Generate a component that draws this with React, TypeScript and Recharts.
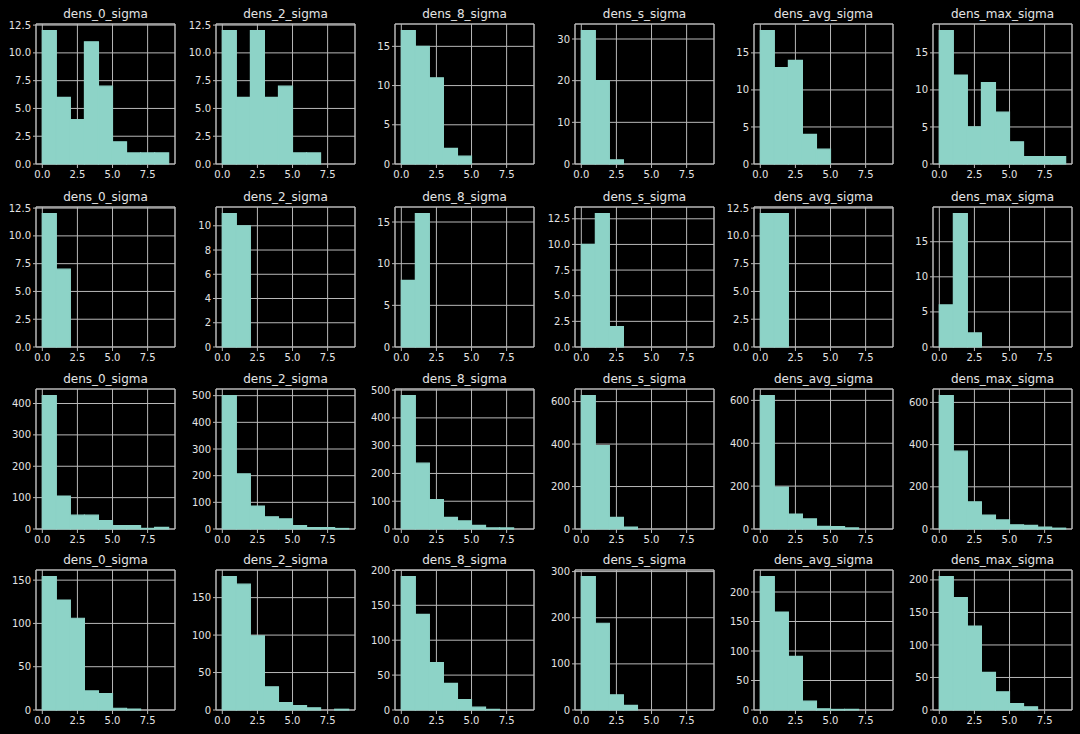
import React from "react";
import { BarChart, Bar, XAxis, YAxis, CartesianGrid, ReferenceArea } from "recharts";

// ---------- data ----------
const panelTitles = ["dens_0_sigma", "dens_2_sigma", "dens_8_sigma", "dens_s_sigma", "dens_avg_sigma", "dens_max_sigma"];
const binStarts = [0, 1, 2, 3, 4, 5, 6, 7, 8];
const xTickValues = [0, 2.5, 5, 7.5];
const xDomain: [number, number] = [-0.45, 9.45];

// counts per bin (width 1, from 0 to 9), one list per column, rows 1..4
const row1Counts = [
  [12, 6, 4, 11, 7, 2, 1, 1, 1],
  [12, 6, 12, 6, 7, 1, 1, 0, 0],
  [17, 15, 11, 2, 1, 0, 0, 0, 0],
  [32, 20, 1, 0, 0, 0, 0, 0, 0],
  [18, 13, 14, 4, 2, 0, 0, 0, 0],
  [18, 12, 5, 11, 7, 3, 1, 1, 1],
];
const row2Counts = [
  [12, 7, 0, 0, 0, 0, 0, 0, 0],
  [11, 10, 0, 0, 0, 0, 0, 0, 0],
  [8, 16, 0, 0, 0, 0, 0, 0, 0],
  [10, 13, 2, 0, 0, 0, 0, 0, 0],
  [12, 12, 0, 0, 0, 0, 0, 0, 0],
  [6, 19, 2, 0, 0, 0, 0, 0, 0],
];
const row3Counts = [
  [425, 105, 44, 44, 27, 11, 11, 2, 5],
  [500, 207, 86, 46, 38, 13, 5, 5, 2],
  [480, 237, 106, 42, 29, 13, 4, 4, 0],
  [628, 393, 55, 9, 0, 0, 0, 0, 0],
  [622, 196, 70, 47, 12, 11, 5, 0, 0],
  [632, 369, 129, 66, 43, 20, 17, 9, 4],
];
const row4Counts = [
  [154, 127, 106, 22, 19, 2, 1, 0, 0],
  [178, 168, 99, 31, 10, 6, 3, 0, 1],
  [191, 137, 68, 38, 15, 4, 1, 0, 0],
  [289, 188, 33, 10, 0, 0, 0, 0, 0],
  [226, 166, 91, 15, 2, 1, 1, 0, 0],
  [205, 173, 129, 58, 28, 10, 5, 0, 0],
];

// y tick labels per panel
const row1YTicks = [
  [0, 2.5, 5, 7.5, 10, 12.5],
  [0, 2.5, 5, 7.5, 10, 12.5],
  [0, 5, 10, 15],
  [0, 10, 20, 30],
  [0, 5, 10, 15],
  [0, 5, 10, 15],
];
const row2YTicks = [
  [0, 2.5, 5, 7.5, 10, 12.5],
  [0, 2, 4, 6, 8, 10],
  [0, 5, 10, 15],
  [0, 2.5, 5, 7.5, 10, 12.5],
  [0, 2.5, 5, 7.5, 10, 12.5],
  [0, 5, 10, 15],
];
const row3YTicks = [
  [0, 100, 200, 300, 400],
  [0, 100, 200, 300, 400, 500],
  [0, 100, 200, 300, 400, 500],
  [0, 200, 400, 600],
  [0, 200, 400, 600],
  [0, 200, 400, 600],
];
const row4YTicks = [
  [0, 50, 100, 150],
  [0, 50, 100, 150],
  [0, 50, 100, 150, 200],
  [0, 100, 200, 300],
  [0, 50, 100, 150, 200],
  [0, 50, 100, 150, 200],
];

const allCounts = [row1Counts, row2Counts, row3Counts, row4Counts];
const allYTicks = [row1YTicks, row2YTicks, row3YTicks, row4YTicks];

// ---------- layout ----------
const COL_LEFTS = [36, 216, 395, 575, 754, 933];
const ROW_TOPS = [24, 207, 389, 570];
const PLOT_W = 139;
const PLOT_H = 140;
const Y_W = 34;
const M_T = 4;
const R = 6;
const X_H = 20;

const BAR_COLOR = "#8dd3c7";
const LINE_COLOR = "#b8b8b8";
const TEXT_COLOR = "#e4e4e4";
const FONT = "'DejaVu Sans', sans-serif";

function Panel({ title, counts, yTicks, left, top }: { title: string; counts: number[]; yTicks: number[]; left: number; top: number }) {
  const data = binStarts.map((b, i) => ({ bin: b, count: counts[i] }));
  const yMax = Math.max(...counts) * 1.05;
  const decimals = yTicks.some((t) => !Number.isInteger(t)) ? 1 : 0;
  const padX = (PLOT_W * (0 - xDomain[0])) / (xDomain[1] - xDomain[0]);
  const tickStyle = { fill: TEXT_COLOR, fontSize: 10, fontFamily: FONT };
  return (
    <>
      <div
        style={{
          position: "absolute",
          left,
          top: top - 17,
          width: PLOT_W,
          height: 14,
          lineHeight: "14px",
          textAlign: "center",
          fontFamily: FONT,
          fontSize: 12,
          color: TEXT_COLOR,
          whiteSpace: "nowrap",
        }}
      >
        {title}
      </div>
      <div style={{ position: "absolute", left: left - Y_W, top: top - M_T }}>
        <BarChart
          width={Y_W + PLOT_W + R}
          height={M_T + PLOT_H + X_H}
          data={data}
          margin={{ top: M_T, right: R, left: 0, bottom: 0 }}
          barCategoryGap={0}
          barGap={0}
        >
          <XAxis
            xAxisId="num"
            dataKey="bin"
            type="number"
            domain={xDomain}
            ticks={xTickValues}
            tickFormatter={(v: number) => v.toFixed(1)}
            height={X_H}
            axisLine={false}
            tickLine={{ stroke: LINE_COLOR }}
            tickSize={4}
            tickMargin={3}
            tick={tickStyle}
            interval={0}
          />
          <XAxis
            xAxisId="cat"
            dataKey="bin"
            type="category"
            orientation="top"
            height={0}
            hide
            padding={{ left: padX, right: padX }}
          />
          <YAxis
            type="number"
            domain={[0, yMax]}
            ticks={yTicks}
            tickFormatter={(v: number) => v.toFixed(decimals)}
            width={Y_W}
            axisLine={false}
            tickLine={{ stroke: LINE_COLOR }}
            tickSize={3}
            tickMargin={2}
            tick={tickStyle}
            interval={0}
          />
          <Bar
            xAxisId="cat"
            dataKey="count"
            fill={BAR_COLOR}
            stroke={BAR_COLOR}
            strokeWidth={1.2}
            isAnimationActive={false}
          />
          <CartesianGrid xAxisId="num" stroke={LINE_COLOR} strokeWidth={1} />
          <ReferenceArea
            xAxisId="num"
            x1={xDomain[0]}
            x2={xDomain[1]}
            y1={0}
            y2={yMax}
            fill="none"
            fillOpacity={0}
            stroke={LINE_COLOR}
            strokeWidth={1}
          />
        </BarChart>
      </div>
    </>
  );
}

export default function App() {
  return (
    <div style={{ position: "fixed", left: 0, top: 0, width: 1080, height: 734, background: "#000", overflow: "hidden" }}>
      <style>{"body{margin:0;background:#000;}"}</style>
      {allCounts.map((row, r) =>
        row.map((counts, c) => (
          <Panel
            key={`${r}-${c}`}
            title={panelTitles[c]}
            counts={counts}
            yTicks={allYTicks[r][c]}
            left={COL_LEFTS[c]}
            top={ROW_TOPS[r]}
          />
        ))
      )}
    </div>
  );
}
